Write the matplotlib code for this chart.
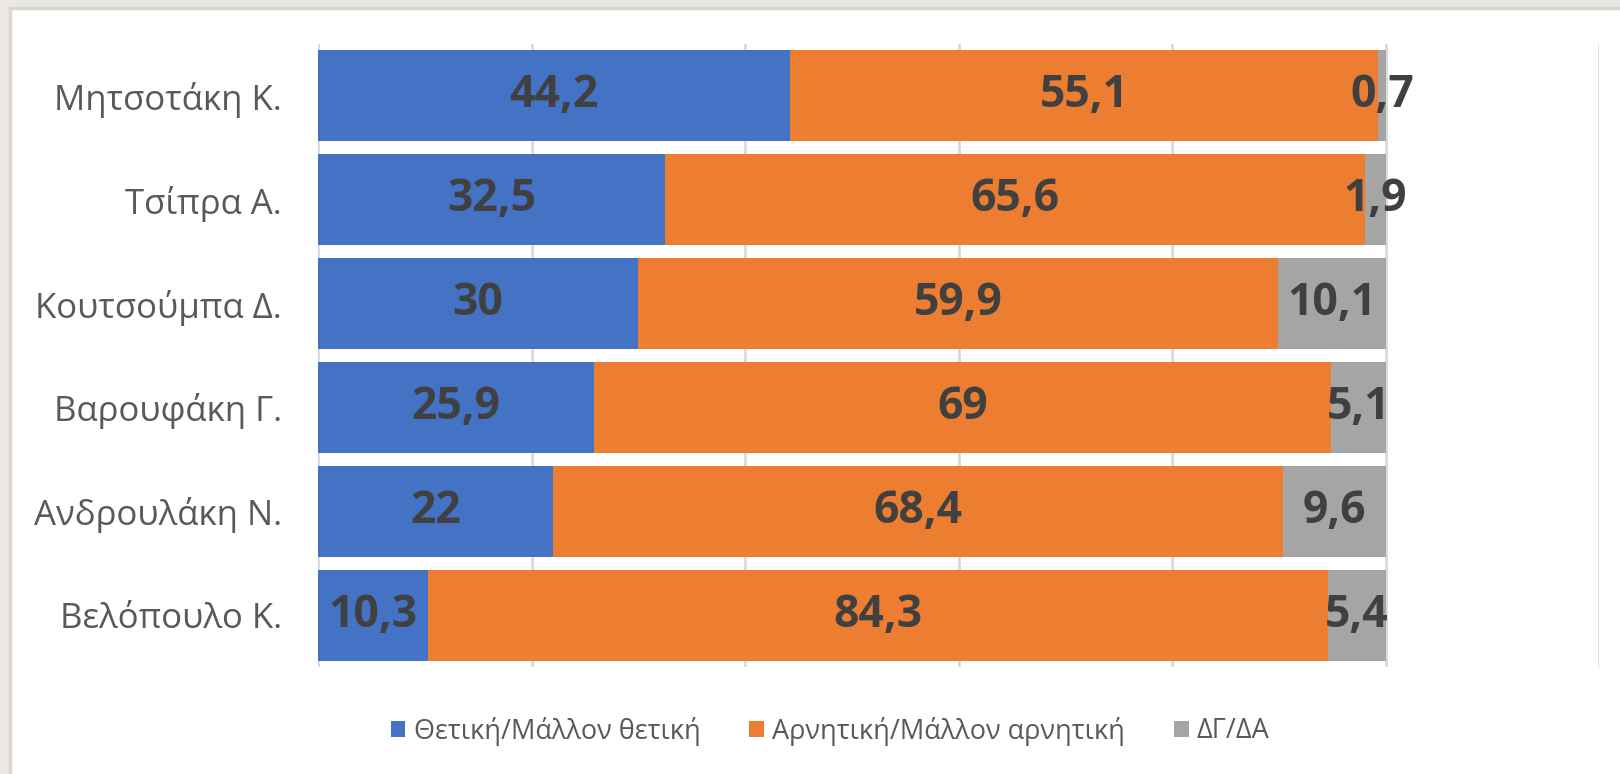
import matplotlib
matplotlib.use("Agg")
import matplotlib.pyplot as plt
from matplotlib.patches import Rectangle

plt.rcParams['font.family'] = ['Open Sans', 'DejaVu Sans']

categories = ["Μητσοτάκη Κ.", "Τσίπρα Α.", "Κουτσούμπα Δ.", "Βαρουφάκη Γ.", "Ανδρουλάκη Ν.", "Βελόπουλο Κ."]
positive = [44.2, 32.5, 30, 25.9, 22, 10.3]
negative = [55.1, 65.6, 59.9, 69, 68.4, 84.3]
dk_na = [0.7, 1.9, 10.1, 5.1, 9.6, 5.4]
series_names = ["Θετική/Μάλλον θετική", "Αρνητική/Μάλλον αρνητική", "ΔΓ/ΔΑ"]
colors = ["#4472C4", "#ED7D31", "#A5A5A5"]

W, H = 1620, 774
fig = plt.figure(figsize=(W / 100, H / 100), dpi=100)
fig.patch.set_facecolor("#ECE7E3")
# chart area frame
fig.patches.append(Rectangle((10 / W, -0.01), 1.02 - 10 / W, 1 - 8 / H + 0.01,
                             transform=fig.transFigure, facecolor="white",
                             edgecolor="#D6D6D6", linewidth=2.5, zorder=-5))

ax = fig.add_axes([318 / W, 1 - 667 / H, (1599 - 318) / W, (667 - 44) / H])
ax.set_facecolor("none")
ax.set_zorder(2)

y = list(range(len(categories)))
fmt = lambda v: f"{v:g}".replace(".", ",")
left = [0] * len(categories)
for vals, name, col in zip([positive, negative, dk_na], series_names, colors):
    bars = ax.barh(y, vals, left=left, height=0.877, color=col, label=name, zorder=3)
    ax.bar_label(bars, labels=[fmt(v) for v in vals], label_type="center",
                 fontsize=32, fontweight="bold", color="#404040", zorder=4)
    left = [a + b for a, b in zip(left, vals)]

ax.set_xlim(0, 120)
ax.set_ylim(len(categories) - 0.5, -0.5)
ax.set_xticks(range(0, 121, 20))
ax.grid(axis="x", color="#D9D9D9", linewidth=2, zorder=0)
for s in ax.spines.values():
    s.set_visible(False)
ax.tick_params(axis="x", length=0, labelbottom=False)
ax.tick_params(axis="y", length=0, pad=26, labelsize=25, labelcolor="#595959")
ax.set_yticks(y)
ax.set_yticklabels(categories)

leg = fig.legend(loc="center", bbox_to_anchor=(830 / W, 1 - 731 / H), ncol=3,
                 frameon=False, fontsize=19.5, labelcolor="#595959",
                 handlelength=0.55, handleheight=0.55, handletextpad=0.3,
                 columnspacing=1.8)

fig.savefig("out.png", dpi=100, facecolor=fig.get_facecolor())
